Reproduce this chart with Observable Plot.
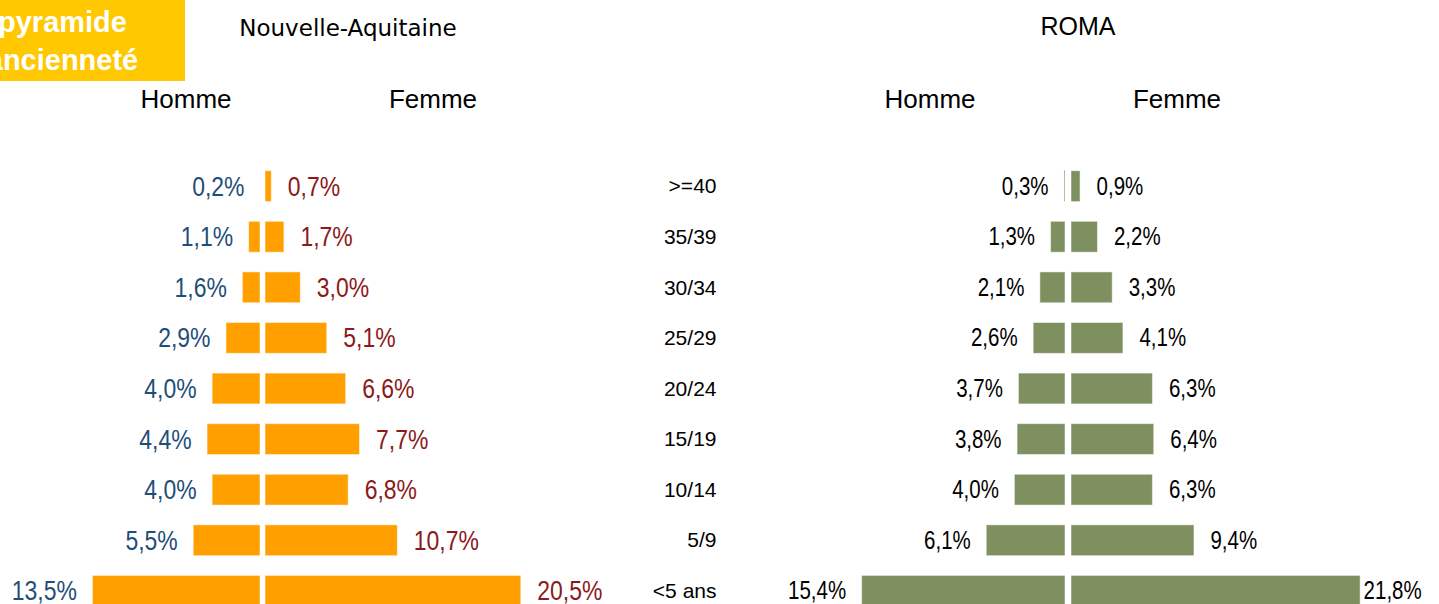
<!DOCTYPE html>
<html><head><meta charset="utf-8">
<script src="https://cdn.jsdelivr.net/npm/d3@7"></script>
<script src="https://cdn.jsdelivr.net/npm/@observablehq/plot@0.6"></script>
<style>
html,body{margin:0;padding:0;background:#fff;}
#root{position:relative;width:1439px;height:604px;overflow:hidden;font-family:"Liberation Sans",Arial,sans-serif;}
.lbl{position:absolute;transform:translate(-50%,-50%);line-height:1;white-space:nowrap;color:#000;}
.plot{position:absolute;left:0;top:0;}
.plot svg{background:transparent !important;}
#badge{position:absolute;left:-60px;top:0;width:245px;height:81px;background:#FFC800;color:#fff;font-weight:bold;font-size:29px;text-align:center;line-height:38px;padding-top:3px;box-sizing:border-box;}
</style></head>
<body><div id="root">
<div id="badge">pyramide<br>ancienneté</div>
<div class="lbl" style="left:348px;top:28px;font-family:'DejaVu Sans',sans-serif;font-size:23px;">Nouvelle-Aquitaine</div>
<div class="lbl" style="left:1078px;top:26px;font-size:25px;">ROMA</div>
<div class="lbl" style="left:186px;top:99px;font-size:26px;">Homme</div>
<div class="lbl" style="left:433px;top:99px;font-size:26px;">Femme</div>
<div class="lbl" style="left:930px;top:99px;font-size:26px;">Homme</div>
<div class="lbl" style="left:1177px;top:99px;font-size:26px;">Femme</div>
<div id="p1" class="plot"></div>
<div id="p2" class="plot"></div>
</div>
<script>
const ages = [">=40","35/39","30/34","25/29","20/24","15/19","10/14","5/9","<5 ans"];
const naHomme = [0.2,1.1,1.6,2.9,4.0,4.4,4.0,5.5,13.5];
const naFemme = [0.7,1.7,3.0,5.1,6.6,7.7,6.8,10.7,20.5];
const romaHomme = [0.3,1.3,2.1,2.6,3.7,3.8,4.0,6.1,15.4];
const romaFemme = [0.9,2.2,3.3,4.1,6.3,6.4,6.3,9.4,21.8];

const na = ages.map((age,i)=>({age, homme:naHomme[i], femme:naFemme[i]}));
const roma = ages.map((age,i)=>({age, homme:romaHomme[i], femme:romaFemme[i]}));
const fmt = v => v.toFixed(1).replace(".", ",") + "%";
const sans = "'Liberation Sans',Arial,sans-serif";
const orange = "#FFA000", green = "#7E8F60";

const p1 = Plot.plot({
  width:1439, height:640, marginLeft:0, marginRight:0, marginTop:0, marginBottom:0,
  style:{background:"transparent"},
  x:{domain:[-20,20], range:[262.5-252, 262.5+252], axis:null},
  y:{domain: ages, range:[151,626], padding:0.39, round:false, axis:null},
  marks:[
    Plot.barX(na, {x: d=>-d.homme, y:"age", fill:orange, insetRight:2.5, stroke:"#fff", strokeOpacity:0.5, strokeWidth:1}),
    Plot.barX(na, {x: "femme", y:"age", fill:orange, insetLeft:2.5, stroke:"#fff", strokeOpacity:0.5, strokeWidth:1}),
    Plot.text(na, {x: d=>-d.homme, y:"age", text: d=>fmt(d.homme), textAnchor:"end", dx:-16, fill:"#1F4E79", fontSize:28, fontFamily:sans}),
    Plot.text(na, {x: "femme", y:"age", text: d=>fmt(d.femme), textAnchor:"start", dx:16, fill:"#8B1A1A", fontSize:28, fontFamily:sans})
  ]
});
document.getElementById("p1").append(p1);

const p2 = Plot.plot({
  width:1439, height:640, marginLeft:719, marginRight:0, marginTop:0, marginBottom:0,
  style:{background:"transparent"},
  x:{domain:[-20,20], range:[1068-268, 1068+268], axis:null},
  y:{domain: ages, range:[151,626], padding:0.39, round:false, label:null},
  marks:[
    Plot.axisY({anchor:"left", tickSize:0, tickPadding:3, fontSize:21, label:null, fill:"#000", fontFamily:sans}),
    Plot.barX(roma, {x: d=>-d.homme, y:"age", fill:green, insetRight:3, stroke:"#fff", strokeOpacity:0.5, strokeWidth:1}),
    Plot.barX(roma, {x: "femme", y:"age", fill:green, insetLeft:3, stroke:"#fff", strokeOpacity:0.5, strokeWidth:1}),
    Plot.text(roma, {x: d=>-d.homme, y:"age", text: d=>fmt(d.homme), textAnchor:"end", dx:-16, fill:"#000", fontSize:25, fontFamily:sans}),
    Plot.text(roma.filter(d=>d.femme<20), {x: "femme", y:"age", text: d=>fmt(d.femme), textAnchor:"start", dx:16, fill:"#000", fontSize:25, fontFamily:sans}),
    Plot.text(roma.filter(d=>d.femme>=20), {x: "femme", y:"age", text: d=>fmt(d.femme), textAnchor:"start", dx:3, fill:"#000", fontSize:25, fontFamily:sans})
  ]
});
document.getElementById("p2").append(p2);

// condense percent labels (narrow typeface look)
document.querySelectorAll('.plot g[aria-label="text"] text').forEach(t => {
  const w = t.getComputedTextLength();
  t.setAttribute("textLength", (w * 0.82).toFixed(1));
  t.setAttribute("lengthAdjust", "spacingAndGlyphs");
});
</script>
</body></html>
